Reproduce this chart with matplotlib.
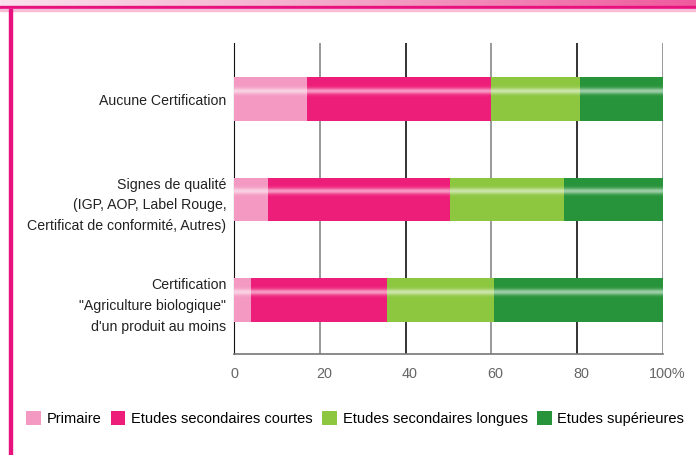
"""Niveau de diplome selon le type de certification (barres empilees)."""

import numpy as np
import matplotlib
matplotlib.use('Agg')
import matplotlib.pyplot as plt
import matplotlib.transforms as mtransforms
from matplotlib.patches import Rectangle

plt.rcParams['font.family'] = ['Liberation Sans', 'DejaVu Sans']

categories = [
    'Aucune Certification',
    'Signes de qualité\n(IGP, AOP, Label Rouge,\nCertificat de conformité, Autres)',
    'Certification\n"Agriculture biologique"\nd\'un produit au moins',
]
series = ['Primaire', 'Etudes secondaires courtes',
          'Etudes secondaires longues', 'Etudes supérieures']
primaire = [17.0, 8.0, 4.0]
sec_courtes = [43.0, 42.3, 31.6]
sec_longues = [20.7, 26.6, 25.1]
superieures = [19.3, 23.1, 39.3]
ticks = [0, 20, 40, 60, 80, 100]
tick_labels = ['0', '20', '40', '60', '80', '100%']

colors = ['#F49AC2', '#ED1E7A', '#8DC63F', '#27933A']
BAR_H = 0.435

fig = plt.figure(figsize=(6.96, 4.56), dpi=100)

# cadre rose : bandeau en degrade en haut, filet a gauche
band = fig.add_axes([0, 1 - 7.5 / 456, 1, 7.5 / 456])
grad = np.linspace(0, 1, 256).reshape(1, -1)
cmap = matplotlib.colors.LinearSegmentedColormap.from_list(
    'band', ['#FBE2ED', '#F4A6C8', '#EF5A9E'])
band.imshow(grad, aspect='auto', cmap=cmap, extent=[0, 1, 0, 1])
band.axis('off')
fig.patches.append(Rectangle((0, 1 - 9.5 / 456), 1, 2.5 / 456,
                             transform=fig.transFigure, color='#E8127F'))
fig.patches.append(Rectangle((0, 1 - 12 / 456), 1, 2.5 / 456,
                             transform=fig.transFigure, color='#F7BCD6'))
fig.patches.append(Rectangle((9 / 696, 0), 2.5 / 696, 1 - 9.5 / 456,
                             transform=fig.transFigure, color='#E8127F'))

ax = fig.add_axes([234 / 696, 1 - 355 / 456, 429 / 696, 311 / 456])
y = np.arange(len(categories))
left = np.zeros(len(categories))
for name, vals, col in zip(series,
                           [primaire, sec_courtes, sec_longues, superieures],
                           colors):
    ax.barh(y, vals, left=left, height=BAR_H, color=col, zorder=3,
            label=name, linewidth=0)
    # reflet clair horizontal dans le haut de la barre
    for off in np.linspace(-0.145, -0.015, 14):
        a = 0.55 * np.exp(-((off + 0.08) / 0.03) ** 2)
        ax.barh(y + off, vals, left=left, height=0.0095, color='white',
                alpha=a, zorder=4, linewidth=0)
    left += np.array(vals)

ax.set_xlim(0, 100)
ax.set_ylim(2.535, -0.554)
ax.set_yticks(y)
ax.set_yticklabels(categories, fontsize=10.2, color='#222222',
                   linespacing=1.6)
ax.set_xticks(ticks)
ax.set_xticklabels(tick_labels, fontsize=10.4, color='#666666')
ax.tick_params(axis='y', length=0, pad=5.5)
ax.tick_params(axis='x', length=0, pad=9)
shift = mtransforms.ScaledTranslation(4 / 100, 0, fig.dpi_scale_trans)
for lab in ax.get_xticklabels()[1:]:
    lab.set_transform(lab.get_transform() + shift)
for t in ticks[1:]:
    ax.axvline(t, color='#111111' if t in (40, 80) else '#888888',
               lw=1.2, zorder=1)
for s in ['top', 'right']:
    ax.spines[s].set_visible(False)
ax.spines['left'].set_color('#111111')
ax.spines['bottom'].set_color('#777777')
ax.spines['bottom'].set_linewidth(1.2)

fig.legend(loc='center left', bbox_to_anchor=(26 / 696, 1 - 419 / 456),
           ncol=4, frameon=False, fontsize=10.5, handlelength=1.0,
           handleheight=1.1, handletextpad=0.4, columnspacing=0.65,
           borderpad=0, borderaxespad=0)

fig.savefig('out.png', dpi=100)
